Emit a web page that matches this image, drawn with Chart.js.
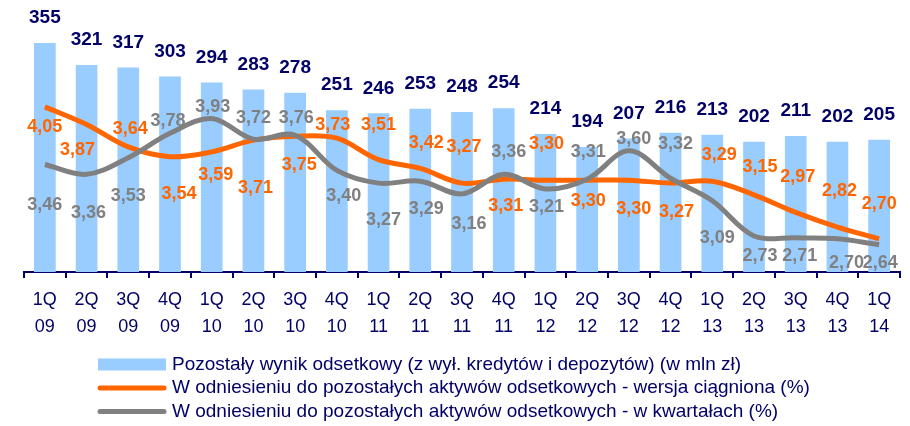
<!DOCTYPE html>
<html>
<head>
<meta charset="utf-8">
<script src="https://cdn.jsdelivr.net/npm/chart.js@4/dist/chart.umd.min.js"></script>
<style>
  html, body { margin: 0; padding: 0; background: #ffffff; }
  #wrap { width: 910px; height: 426px; position: relative; }
</style>
</head>
<body>
<div id="wrap"><canvas id="chart"></canvas></div>
<script>
// Quarter labels (two lines: quarter / year)
const quarters = ['1Q','2Q','3Q','4Q','1Q','2Q','3Q','4Q','1Q','2Q','3Q','4Q','1Q','2Q','3Q','4Q','1Q','2Q','3Q','4Q','1Q'];
const years    = ['09','09','09','09','10','10','10','10','11','11','11','11','12','12','12','12','13','13','13','13','14'];

// Other net interest income (excl. loans and deposits), PLN m
const otherInterestIncome = [355, 321, 317, 303, 294, 283, 278, 251, 246, 253, 248, 254, 214, 194, 207, 216, 213, 202, 211, 202, 205];

// Margin on other interest-bearing assets, cumulative (%)
const marginCumulative = [4.05, 3.87, 3.64, 3.54, 3.59, 3.71, 3.75, 3.73, 3.51, 3.42, 3.27, 3.31, 3.30, 3.30, 3.30, 3.27, 3.29, 3.15, 2.97, 2.82, 2.70];

// Margin on other interest-bearing assets, quarterly (%)
const marginQuarterly = [3.46, 3.36, 3.53, 3.78, 3.93, 3.72, 3.76, 3.40, 3.27, 3.29, 3.16, 3.36, 3.21, 3.31, 3.60, 3.32, 3.09, 2.73, 2.71, 2.70, 2.64];

const seriesNames = [
  'Pozostały wynik odsetkowy (z wył. kredytów i depozytów) (w mln zł)',
  'W odniesieniu do pozostałych aktywów odsetkowych - wersja ciągniona (%)',
  'W odniesieniu do pozostałych aktywów odsetkowych - w kwartałach (%)'
];

// Label placement relative to each line point (pixels: dx, dy of label centre)
const cumulativeLabelShift = [
  [0, 20], [-9, 26], [2, -18], [9, 37], [4, 23], [2, 48], [4, 29], [-4, -13], [0, -35], [6, -25], [2, -36],
  [2, 27], [1, -36], [1, 21], [5, 29], [6, 29], [7, -26], [6, -28], [2, -35], [2, -36], [0, -35]
];
const quarterlyLabelShift = [
  [0, 40], [2, 39], [0, 38], [-2, -12], [1, -12], [0, -21], [1, -17], [7, 26], [5, 37], [6, 28], [7, 30],
  [5, -22], [1, 18], [1, -27], [5, -12], [5, -34], [5, 37], [6, 20], [4, 18], [9, 24], [1, 18]
];

const NAVY = '#000066';
const ORANGE = '#FF6600';
const GREY = '#808080';
const BLUE = '#99CCFF';
const FONT = "'Liberation Sans', Arial, sans-serif";

Chart.defaults.font.family = FONT;

const fmt = v => v.toFixed(2).replace('.', ',');

// Value labels above bars and beside line points
const valueLabels = {
  id: 'valueLabels',
  afterDatasetsDraw(chart) {
    const ctx = chart.ctx;
    ctx.save();
    ctx.textAlign = 'center';
    ctx.textBaseline = 'middle';

    const barMeta = chart.getDatasetMeta(2);
    ctx.font = 'bold 19px ' + FONT;
    ctx.fillStyle = NAVY;
    barMeta.data.forEach((el, i) => {
      ctx.fillText(String(otherInterestIncome[i]), el.x, el.y - 25);
    });

    const lineSets = [
      { idx: 1, values: marginCumulative, shift: cumulativeLabelShift, color: ORANGE },
      { idx: 0, values: marginQuarterly, shift: quarterlyLabelShift, color: GREY }
    ];
    ctx.font = 'bold 18px ' + FONT;
    lineSets.forEach(s => {
      const meta = chart.getDatasetMeta(s.idx);
      ctx.fillStyle = s.color;
      meta.data.forEach((el, i) => {
        ctx.fillText(fmt(s.values[i]), el.x + s.shift[i][0], el.y + s.shift[i][1]);
      });
    });
    ctx.restore();
  }
};

// Legend: one series per row, symbol on the left
const rowLegend = {
  id: 'rowLegend',
  afterDraw(chart) {
    const ctx = chart.ctx;
    const rows = [
      { text: seriesNames[0], kind: 'box', color: BLUE },
      { text: seriesNames[1], kind: 'line', color: ORANGE },
      { text: seriesNames[2], kind: 'line', color: GREY }
    ];
    const rowY = [364.5, 388, 411.5];
    const symLeft = 98, symRight = 166, textLeft = 172;
    ctx.save();
    ctx.font = '19px ' + FONT;
    ctx.textBaseline = 'middle';
    ctx.textAlign = 'left';
    rows.forEach((r, i) => {
      const y = rowY[i];
      if (r.kind === 'box') {
        ctx.fillStyle = r.color;
        ctx.fillRect(symLeft, y - 6, symRight - symLeft, 12);
      } else {
        ctx.strokeStyle = r.color;
        ctx.lineWidth = 5;
        ctx.lineCap = 'round';
        ctx.beginPath();
        ctx.moveTo(symLeft + 2, y);
        ctx.lineTo(symRight - 2, y);
        ctx.stroke();
      }
      ctx.fillStyle = NAVY;
      ctx.fillText(r.text, textLeft, y);
    });
    ctx.restore();
  }
};

const labels = quarters.map((q, i) => [q, years[i]]);

new Chart(document.getElementById('chart'), {
  type: 'bar',
  data: {
    labels: labels,
    datasets: [
      {
        type: 'line',
        label: seriesNames[2],
        data: marginQuarterly,
        yAxisID: 'y2',
        borderColor: GREY,
        borderWidth: 5,
        pointRadius: 0,
        tension: 0.35,
        fill: false,
        order: 0
      },
      {
        type: 'line',
        label: seriesNames[1],
        data: marginCumulative,
        yAxisID: 'y2',
        borderColor: ORANGE,
        borderWidth: 5,
        pointRadius: 0,
        tension: 0.35,
        fill: false,
        order: 1
      },
      {
        type: 'bar',
        label: seriesNames[0],
        data: otherInterestIncome,
        yAxisID: 'y',
        backgroundColor: BLUE,
        borderWidth: 0,
        barPercentage: 0.52,
        categoryPercentage: 1.0,
        order: 2
      }
    ]
  },
  options: {
    responsive: true,
    maintainAspectRatio: false,
    animation: false,
    layout: { padding: { left: 24, right: 10, top: 14, bottom: 77 } },
    plugins: {
      legend: { display: false },
      tooltip: { enabled: false }
    },
    scales: {
      x: {
        offset: true,
        grid: {
          display: true,
          offset: true,
          drawOnChartArea: false,
          drawTicks: true,
          tickLength: 6,
          color: NAVY,
          lineWidth: 2
        },
        border: { display: true, color: NAVY, width: 2 },
        ticks: {
          color: NAVY,
          font: { size: 18, lineHeight: 1.47 },
          padding: 9,
          maxRotation: 0,
          autoSkip: false
        }
      },
      y: { display: false, min: 0, max: 400 },
      y2: { display: false, min: 2.36, max: 5.0 }
    }
  },
  plugins: [valueLabels, rowLegend]
});
</script>
</body>
</html>
